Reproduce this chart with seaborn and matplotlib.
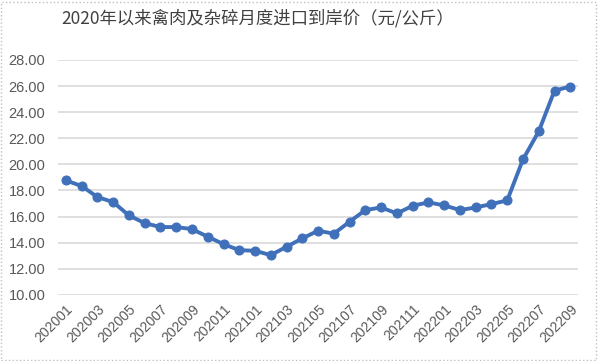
import matplotlib.pyplot as plt
import matplotlib.patches as mpatches
import seaborn as sns

months = [
    "202001", "202002", "202003", "202004", "202005", "202006", "202007", "202008",
    "202009", "202010", "202011", "202012", "202101", "202102", "202103", "202104",
    "202105", "202106", "202107", "202108", "202109", "202110", "202111", "202112",
    "202201", "202202", "202203", "202204", "202205", "202206", "202207", "202208",
    "202209",
]
prices = [
    18.77, 18.34, 17.50, 17.11, 16.09, 15.50, 15.20, 15.20,
    15.04, 14.46, 13.89, 13.43, 13.38, 13.05, 13.69, 14.33,
    14.92, 14.69, 15.61, 16.50, 16.70, 16.24, 16.83, 17.09,
    16.86, 16.50, 16.70, 16.96, 17.24, 20.38, 22.53, 25.65,
    25.96,
]
y_ticks = [10, 12, 14, 16, 18, 20, 22, 24, 26, 28]

sns.set_style("white")
plt.rcParams["font.family"] = ["Noto Sans CJK SC", "DejaVu Sans"]

fig = plt.figure(figsize=(6.01, 3.61), dpi=100)
ax = fig.add_axes([0.0965, 0.183, 0.8655, 0.651])

x = list(range(len(months)))
sns.lineplot(x=x, y=prices, ax=ax, color="#4070BA", linewidth=2.8,
             marker="o", markersize=6.5, markeredgecolor="#4070BA", zorder=3)

ax.set_xlim(-0.5, len(months) - 0.5)
ax.set_ylim(10, 28)
ax.set_yticks(y_ticks)
ax.set_yticklabels([f"{v:.2f}" for v in y_ticks], color="#595959", fontsize=10.5,
                   family="Liberation Sans")
ax.set_xticks(x[::2])
ax.set_xticklabels(months[::2], rotation=45, ha="right", rotation_mode="anchor",
                   color="#595959", fontsize=10, family="Liberation Sans")
ax.tick_params(axis="y", length=0, pad=9)
ax.tick_params(axis="x", length=0, pad=5)
ax.grid(axis="y", color="#D9D9D9", linewidth=1.2)
ax.set_axisbelow(True)
sns.despine(ax=ax, left=True, bottom=True)
ax.set_xlabel("")
ax.set_ylabel("")

fig.text(258 / 601, 1 - 18 / 361, "2020年以来禽肉及杂碎月度进口到岸价（元/公斤）",
         ha="center", va="center", fontsize=12.5, color="#404040")

border = mpatches.Rectangle((0.002, 0.004), 0.99, 0.99, transform=fig.transFigure,
                            fill=False, edgecolor="#BFBFBF", linewidth=1, linestyle=":")
fig.patches.append(border)

fig.savefig("out.png", dpi=100)
